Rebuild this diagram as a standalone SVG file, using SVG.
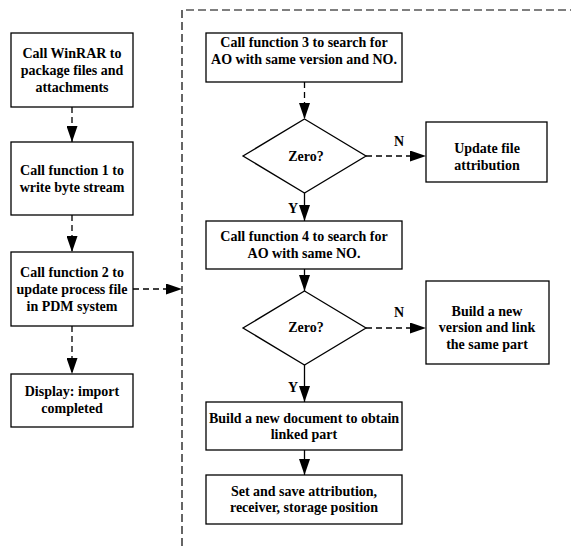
<svg xmlns="http://www.w3.org/2000/svg" width="571" height="546" viewBox="0 0 571 546">
<style>
.box{fill:#fff;stroke:#000;stroke-width:1.3}
.t{font-family:"Liberation Serif","Times New Roman",serif;font-weight:bold;font-size:14px;fill:#000;text-anchor:middle}
.c{stroke:#000;stroke-width:1.3;fill:none}
.d{stroke-dasharray:6 4}
.frame{stroke:#000;stroke-width:1.2;fill:none;stroke-dasharray:8 4}
</style>
<defs>
<marker id="ah" markerWidth="16" markerHeight="11" refX="16" refY="5.5" viewBox="0 0 16 11" markerUnits="userSpaceOnUse" orient="auto">
<path d="M0,0 L16,5.5 L0,11 Z" fill="#000"/>
</marker>
</defs>
<rect width="571" height="546" fill="#fff"/>
<path class="frame" d="M182,546 L182,10 L571,10"/>

<g id="n1"><rect class="box" x="11" y="33" width="122" height="74"/>
<text class="t" x="72" y="58">Call WinRAR to</text><text class="t" x="72" y="75">package files and</text><text class="t" x="72" y="92">attachments</text></g>
<g id="n2"><rect class="box" x="11" y="142" width="122" height="73"/>
<text class="t" x="72" y="175">Call function 1 to</text><text class="t" x="72" y="192">write byte stream</text></g>
<g id="n3"><rect class="box" x="11" y="252" width="122" height="74"/>
<text class="t" x="72" y="277">Call function 2 to</text><text class="t" x="72" y="294">update process file</text><text class="t" x="72" y="311">in PDM system</text></g>
<g id="n4"><rect class="box" x="11" y="374" width="122" height="53"/>
<text class="t" x="72" y="396">Display: import</text><text class="t" x="72" y="413">completed</text></g>

<g id="nA"><rect class="box" x="206" y="33" width="196" height="49"/>
<text class="t" x="304" y="47">Call function 3 to search for</text><text class="t" x="304" y="64">AO with same version and NO.</text></g>
<g id="d1"><polygon class="box" points="304.5,119 366,156 304.5,193 243,156"/>
<text class="t" x="306" y="161">Zero?</text></g>
<g id="nU"><rect class="box" x="426" y="122" width="121" height="60"/>
<text class="t" x="487" y="153">Update file</text><text class="t" x="487" y="170">attribution</text></g>
<g id="nB"><rect class="box" x="206" y="221" width="196" height="48"/>
<text class="t" x="304" y="241">Call function 4 to search for</text><text class="t" x="304" y="258">AO with same NO.</text></g>
<g id="d2"><polygon class="box" points="304.5,291 366,328 304.5,365 243,328"/>
<text class="t" x="306" y="332">Zero?</text></g>
<g id="nV"><rect class="box" x="426" y="281" width="123" height="83"/>
<text class="t" x="487" y="316">Build a new</text><text class="t" x="487" y="332">version and link</text><text class="t" x="487" y="349">the same part</text></g>
<g id="nC"><rect class="box" x="206" y="402" width="196" height="48"/>
<text class="t" x="304" y="423">Build a new document to obtain</text><text class="t" x="304" y="439">linked part</text></g>
<g id="nD"><rect class="box" x="206" y="475" width="196" height="49"/>
<text class="t" x="304" y="496">Set and save attribution,</text><text class="t" x="304" y="512">receiver, storage position</text></g>

<g id="connectors">
<line class="c d" x1="72" y1="107" x2="72" y2="142" marker-end="url(#ah)"/>
<line class="c d" x1="72" y1="215" x2="72" y2="252" marker-end="url(#ah)"/>
<line class="c d" x1="72" y1="326" x2="72" y2="374" marker-end="url(#ah)"/>
<line class="c d" x1="133" y1="289" x2="182" y2="289" marker-end="url(#ah)"/>
<line class="c d" x1="304.5" y1="82" x2="304.5" y2="119" marker-end="url(#ah)"/>
<line class="c d" x1="366" y1="156" x2="426" y2="156" marker-end="url(#ah)"/>
<line class="c" x1="304.5" y1="193" x2="304.5" y2="221" marker-end="url(#ah)"/>
<line class="c" x1="304.5" y1="269" x2="304.5" y2="291" marker-end="url(#ah)"/>
<line class="c d" x1="366" y1="328" x2="426" y2="328" marker-end="url(#ah)"/>
<line class="c" x1="304.5" y1="365" x2="304.5" y2="402" marker-end="url(#ah)"/>
<line class="c" x1="304.5" y1="450" x2="304.5" y2="475" marker-end="url(#ah)"/>
<text class="t" x="399" y="146">N</text>
<text class="t" x="293" y="213">Y</text>
<text class="t" x="399" y="317">N</text>
<text class="t" x="293" y="392">Y</text>
</g>
</svg>
